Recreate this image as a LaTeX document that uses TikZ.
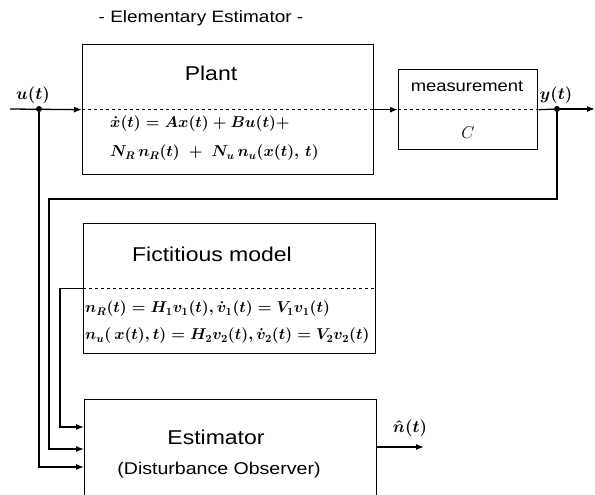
\RequirePackage{fix-cm}
\documentclass[tikz,border=0pt]{standalone}
\usepackage{fontspec}
\usepackage{amsmath}
\usetikzlibrary{arrows.meta}
\newfontfamily\blockfont[FakeStretch=1.15]{Liberation Sans}

\tikzset{
	block/.style = {draw, line width=1.4pt, rectangle, inner sep=0pt, anchor=north west},
	sig/.style = {line width=1.3pt, ->, >={Latex[length=8pt,width=6pt]}},
	wire/.style = {line width=1.3pt},
	title/.style = {font=\blockfont\fontsize{20}{22}\selectfont},
	eqn/.style = {anchor=west, inner sep=0pt, font=\fontsize{15.7}{18}\selectfont\boldmath},
	lab/.style = {font=\fontsize{17}{19}\selectfont\boldmath},
	dot/.style = {circle, fill, inner sep=0pt, minimum size=6pt}
}

\begin{document}
\begin{tikzpicture}[x=1pt, y=-1pt]
	\useasboundingbox (0,0) rectangle (595,495);
	% heading
	\node [font=\blockfont\fontsize{16.5}{19}\selectfont] (head) at (201,18) {- Elementary Estimator -};
	% blocks
	\node [block, minimum width=291pt, minimum height=130pt] (plant) at (82,44) {};
	\node [block, minimum width=139pt, minimum height=80pt] (meas) at (398,69) {};
	\node [block, minimum width=292pt, minimum height=130pt] (fict) at (83,223) {};
	\node [block, minimum width=292pt, minimum height=110pt] (est) at (84,399) {};
	\draw [dashed, line width=1pt] (plant.west) -- (plant.east);
	\draw [dashed, line width=1pt] (meas.west) -- (meas.east);
	\draw [dashed, line width=1pt] (fict.west) -- (fict.east);
	% texts
	\node [title] (plantname) at (211,73) {Plant};
	\node [eqn] (eqa) at (110,124) {$\dot{x}(t)= Ax(t)+ Bu(t)+$};
	\node [eqn] (eqb) at (110,153) {$N_R\,n_R(t) \;+\; N_u\,n_u(x(t),\,t)$};
	\node [font=\blockfont\fontsize{16}{18}\selectfont] (measname) at (467,86) {measurement};
	\node [font=\fontsize{17}{19}\selectfont] (cmat) at (468,133) {$C$};
	\node [title] (fictname) at (212,254) {Fictitious model};
	\node [eqn] (eqc) at (85,309) {$n_R(t) = H_1 v_1(t), \dot{v}_1(t) = V_1 v_1(t)$};
	\node [eqn] (eqd) at (85,336) {$n_u(\,x(t),t) = H_2 v_2(t), \dot{v}_2(t) = V_2 v_2(t)$};
	\node [title] (estname) at (216,437) {Estimator};
	\node [font=\blockfont\fontsize{17}{19}\selectfont] (estsub) at (219,470) {(Disturbance Observer)};
	% signals
	\coordinate (uin) at (10,109);
	\node [dot] (usplit) at (39,109) {};
	\node [dot] (ysplit) at (557,109) {};
	\coordinate (yout) at (595,109);
	\coordinate (nout) at (424,447);
	\node [lab] (ulab) at (33,95) {$u(t)$};
	\node [lab] (ylab) at (556,95) {$y(t)$};
	\node [lab] (nlab) at (410,428) {$\hat{n}(t)$};
	\draw [sig] (uin) -- (plant.west);
	\draw [sig] (plant.east) -- (meas.west);
	\draw [wire] (meas.east) -- (ysplit);
	\draw [sig] (ysplit) -- (yout);
	\draw [sig] (usplit) |- (est.west |- 0,467);
	\draw [sig] (ysplit) |- (49,199) |- (est.west |- 0,449);
	\draw [sig] (fict.west) -| (60,427) -- (est.west |- 0,427);
	\draw [sig] (est.east |- 0,447) -- (nout);
\end{tikzpicture}
\end{document}
